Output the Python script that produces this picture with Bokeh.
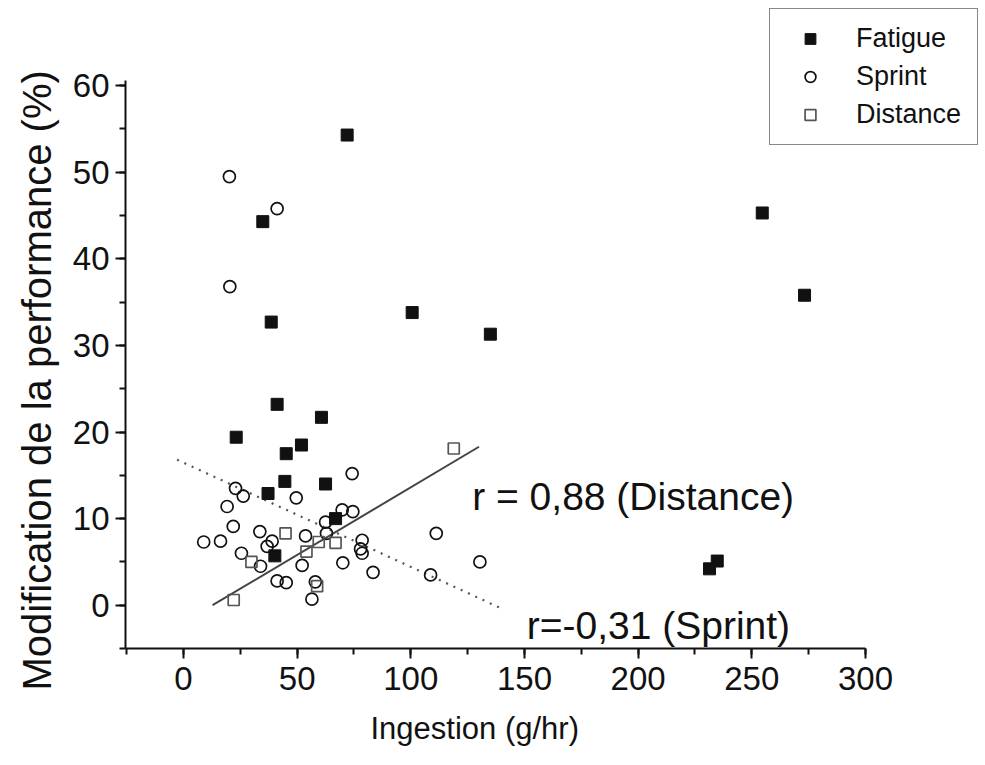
from bokeh.plotting import figure
from bokeh.models import (ColumnDataSource, Range1d, SingleIntervalTicker, Legend, LegendItem, Label, Title)
from bokeh.embed import file_html
from bokeh.resources import INLINE

# ---- data ----
fatigue_x = [72.0, 34.9, 38.6, 100.6, 135.0, 41.2, 60.7, 23.2, 51.9, 45.2, 44.6, 62.5, 37.2, 66.9, 40.2,
             254.6, 273.2, 234.8, 231.4]
fatigue_y = [54.3, 44.3, 32.7, 33.8, 31.3, 23.2, 21.7, 19.4, 18.5, 17.5, 14.3, 14.0, 12.9, 10.0, 5.7,
             45.3, 35.8, 5.1, 4.2]

sprint_x = [20.2, 41.2, 20.4, 74.2, 22.9, 26.3, 49.6, 19.2, 69.8, 74.5, 62.5, 21.9, 33.6, 62.9, 111.2,
            53.7, 8.9, 16.3, 39.0, 36.8, 78.6, 77.9, 78.6, 25.5, 33.9, 52.2, 70.1, 130.4, 108.7, 83.4,
            41.2, 45.2, 58.0, 56.5]
sprint_y = [49.5, 45.8, 36.8, 15.2, 13.5, 12.6, 12.4, 11.4, 11.0, 10.8, 9.6, 9.1, 8.5, 8.3, 8.3,
            8.0, 7.3, 7.4, 7.4, 6.8, 7.5, 6.5, 6.0, 6.0, 4.5, 4.6, 4.9, 5.0, 3.5, 3.8,
            2.8, 2.6, 2.7, 0.7]

distance_x = [22.1, 29.9, 44.9, 54.1, 59.5, 66.9, 58.8, 118.9]
distance_y = [0.6, 5.0, 8.3, 6.2, 7.3, 7.2, 2.2, 18.1]

# regression lines (end points)
dist_fit_x = [12.8, 130.0]
dist_fit_y = [0.0, 18.3]
sprint_fit_x = [-2.8, 140.9]
sprint_fit_y = [16.8, -0.5]

r_dist_text = "r = 0,88 (Distance)"
r_dist_pos = (127.0, 12.5)
r_sprint_text = "r=-0,31 (Sprint)"
r_sprint_pos = (151.0, -2.3)

x_label = "Ingestion (g/hr)"
y_label = "Modification de la performance (%)"
series_names = ["Fatigue", "Sprint", "Distance"]

x_axis_bounds = (-25.5, 300)
y_axis_bounds = (-5, 60.6)

FONT = "Liberation Sans"

# frame extended to the top/right so the legend box can sit there; axes are bounded
p = figure(width=985, height=765, output_backend="svg", toolbar_location=None,
           x_range=Range1d(-25.5, 352.8), y_range=Range1d(-5, 69.84),
           min_border_left=125, min_border_right=0, min_border_top=0, min_border_bottom=117)
p.outline_line_color = None
p.xgrid.visible = False
p.ygrid.visible = False
p.background_fill_color = "white"
p.border_fill_color = "white"

p.xaxis.ticker = SingleIntervalTicker(interval=50, num_minor_ticks=2)
p.yaxis.ticker = SingleIntervalTicker(interval=10, num_minor_ticks=2)
p.xaxis.bounds = x_axis_bounds
p.yaxis.bounds = y_axis_bounds

for ax in (p.xaxis[0], p.yaxis[0]):
    ax.axis_line_width = 2
    ax.axis_line_color = "#111111"
    ax.major_tick_line_width = 2
    ax.minor_tick_line_width = 2
    ax.major_tick_line_color = "#111111"
    ax.minor_tick_line_color = "#111111"
    ax.major_tick_in = 0
    ax.minor_tick_in = 0
    ax.major_tick_out = 10
    ax.minor_tick_out = 6
    ax.major_label_text_font = FONT
    ax.major_label_text_font_size = "33px"
    ax.major_label_text_color = "#111111"

p.xaxis.major_label_standoff = 8
p.yaxis.major_label_standoff = 6

# axis titles (as Titles so they can be placed like the reference)
xt = Title(text=x_label, align="left", offset=245, vertical_align="top", standoff=36,
           text_font=FONT, text_font_size="31px", text_font_style="normal", text_color="#111111")
p.add_layout(xt, "below")
yt = Title(text=y_label, align="left", offset=-42, vertical_align="bottom", standoff=22,
           text_font=FONT, text_font_size="40px", text_font_style="normal", text_color="#111111")
p.add_layout(yt, "left")

# fit lines
p.line(sprint_fit_x, sprint_fit_y, line_color="#555555", line_width=2.2, line_dash="2 6")
p.line(dist_fit_x, dist_fit_y, line_color="#444444", line_width=2)

src_f = ColumnDataSource(dict(x=fatigue_x, y=fatigue_y))
src_s = ColumnDataSource(dict(x=sprint_x, y=sprint_y))
src_d = ColumnDataSource(dict(x=distance_x, y=distance_y))

r_s = p.scatter("x", "y", source=src_s, marker="circle", size=12, fill_color=None,
                line_color="#111111", line_width=1.7)
r_d = p.scatter("x", "y", source=src_d, marker="square", size=11, fill_color=None,
                line_color="#555555", line_width=1.7)
r_f = p.scatter("x", "y", source=src_f, marker="square", size=12, fill_color="#111111",
                line_color="#111111", line_width=1)

for txt, pos in ((r_dist_text, r_dist_pos), (r_sprint_text, r_sprint_pos)):
    p.add_layout(Label(x=pos[0], y=pos[1], text=txt, text_font=FONT, text_font_size="39px",
                       text_color="#111111", text_baseline="middle", text_align="left"))

legend = Legend(items=[LegendItem(label=series_names[0], renderers=[r_f]),
                       LegendItem(label=series_names[1], renderers=[r_s]),
                       LegendItem(label=series_names[2], renderers=[r_d])],
                location=(644, 503))
legend.border_line_color = "#111111"
legend.border_line_width = 1.5
legend.background_fill_color = "white"
legend.background_fill_alpha = 1.0
legend.label_text_font = FONT
legend.label_text_font_size = "27px"
legend.label_text_color = "#111111"
legend.padding = 14
legend.spacing = 7
legend.label_height = 30
legend.glyph_height = 27
legend.glyph_width = 52
legend.label_standoff = 20
legend.label_width = 107
legend.margin = 0
p.add_layout(legend, "center")

open("out.html", "w").write(file_html(p, INLINE))
